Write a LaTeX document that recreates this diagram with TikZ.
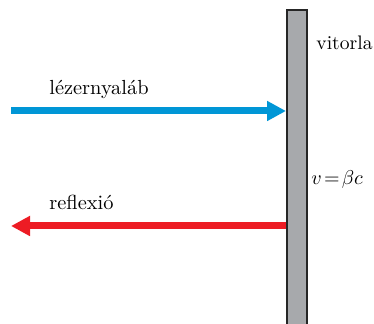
\documentclass[tikz,border=0pt]{standalone}
\usetikzlibrary{arrows.meta, positioning}

\definecolor{beamblue}{RGB}{0,150,214}
\definecolor{beamred}{RGB}{237,28,36}
\definecolor{sailgray}{RGB}{167,169,172}

\begin{document}
\begin{tikzpicture}[
    x=0.5pt, y=-0.5pt,
    every node/.style={font=\fontsize{10.2}{12}\selectfont, inner sep=0pt}, % labels sit on their baseline
    sail/.style={draw=black!85, line width=0.8pt, fill=sailgray, rectangle, anchor=north west},
    beam/.style={line width=3.5pt, -{Triangle[length=9.5pt, width=9.5pt]}}
]
\useasboundingbox (0,0) rectangle (374,324);
% the sail
\node[sail, minimum width=10pt, minimum height=162pt] (sail) at (286,9) {};
\node[anchor=base west, font=\fontsize{9.8}{12}\selectfont] (name) at (316,50) {vitorla};
\node[anchor=base west] (speed) at (311,185) {$v\mskip2mu{=}\mskip2mu\beta c$};
% incoming and reflected beams
\coordinate (laser) at (11,111);
\coordinate (back) at (11,226);
\draw[beam, beamblue] (laser) -- (sail.west |- laser);
\draw[beam, beamred] (sail.west |- back) -- (back);
\node[anchor=base west] (lbl_in) at (49,95) {lézernyaláb};
\node[anchor=base west] (lbl_out) at (49,210) {reflexió};
\end{tikzpicture}
\end{document}
